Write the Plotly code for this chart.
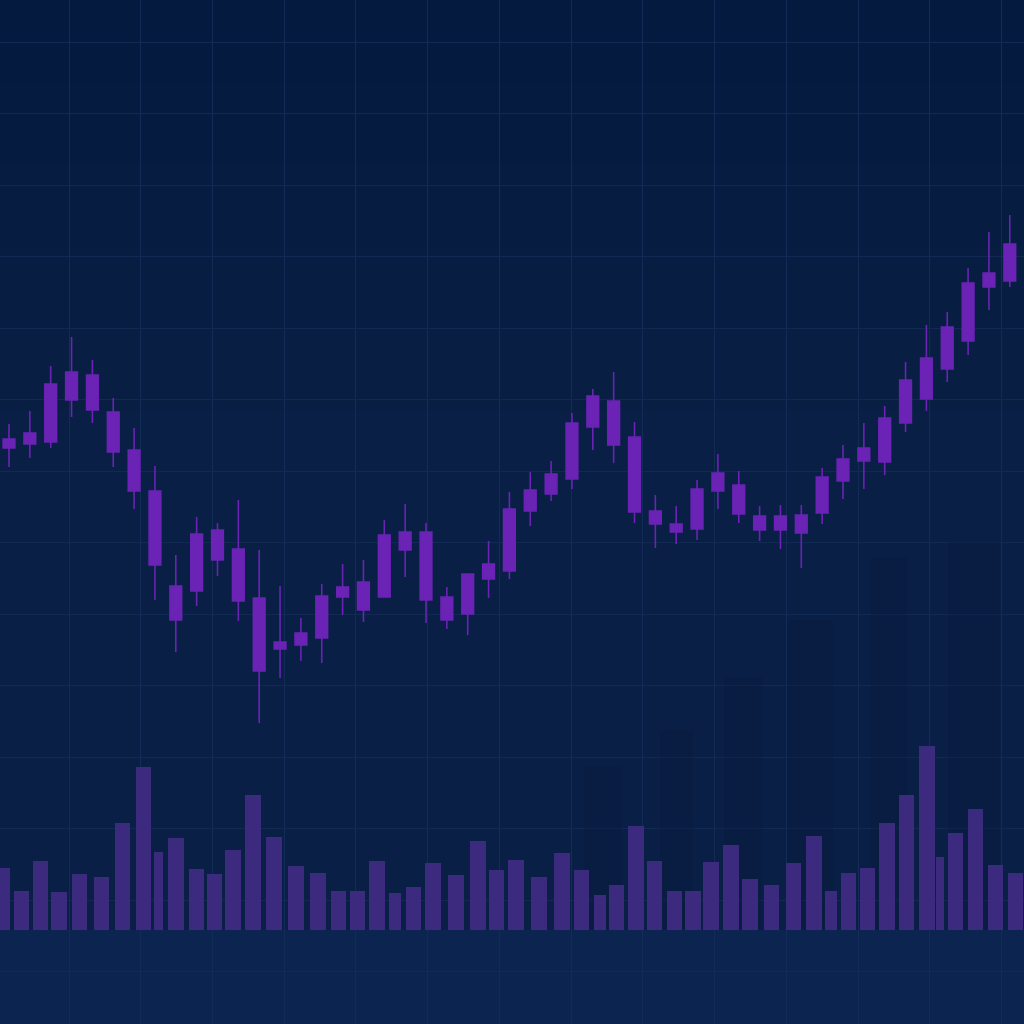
import plotly.graph_objects as go

# price candles (one per session)
sessions = list(range(49))
opens = [130.4, 131.2, 131.6, 140.0, 145.0, 137.6, 130.0, 121.8, 102.8, 101.8,
         114.0, 110.2, 100.4, 91.6, 91.0, 92.4, 100.6, 103.6, 100.6, 113.6,
         113.6, 100.6, 97.2, 104.2, 105.8, 117.8, 121.2, 124.2, 134.6, 139.8,
         132.6, 117.8, 115.2, 114.2, 121.8, 123.0, 116.8, 114.0, 117.0, 117.4,
         123.8, 127.8, 127.6, 135.4, 140.2, 146.2, 151.8, 165.4, 163.8]
highs = [135.2, 137.8, 146.8, 152.6, 148.0, 140.4, 134.4, 126.8, 109.0, 116.6,
         115.4, 120.0, 110.0, 102.8, 96.4, 103.2, 107.2, 108.0, 116.0, 119.2,
         115.4, 102.6, 105.2, 111.8, 121.6, 125.6, 127.8, 137.4, 142.2, 145.6,
         135.6, 121.0, 118.8, 124.0, 129.2, 125.8, 118.8, 119.0, 119.0, 126.4,
         131.0, 135.4, 138.8, 147.6, 155.0, 157.6, 166.4, 173.6, 177.0]
lows = [126.6, 128.4, 130.4, 136.6, 135.4, 126.6, 118.2, 100.0, 89.6, 98.8,
        104.8, 95.8, 75.4, 84.4, 87.8, 87.4, 97.0, 95.6, 100.6, 104.6,
        95.4, 94.2, 93.0, 100.4, 104.2, 114.8, 119.8, 122.2, 130.0, 127.4,
        115.4, 110.4, 111.2, 112.0, 118.2, 115.4, 111.8, 110.2, 106.4, 115.2,
        120.2, 122.2, 125.0, 133.6, 137.8, 143.6, 149.0, 158.0, 162.6]
closes = [132.2, 133.4, 143.2, 145.6, 138.0, 129.6, 121.8, 107.0, 96.0, 113.2,
          108.0, 99.8, 85.8, 90.2, 93.4, 100.8, 102.6, 98.0, 113.0, 110.0,
          100.0, 96.0, 105.2, 107.2, 118.2, 122.0, 125.2, 135.4, 140.8, 131.0,
          117.6, 115.2, 113.6, 122.2, 125.4, 117.2, 114.0, 116.8, 113.4, 124.6,
          128.2, 130.4, 136.4, 144.0, 148.4, 154.6, 163.4, 162.6, 171.2]

# volume bars (thousands), placed on the session axis
vol_x = [-0.34, 0.60, 1.51, 2.40, 3.38, 4.44, 5.44, 6.45, 7.17, 8.01,
         8.99, 9.86, 10.74, 11.70, 12.71, 13.76, 14.82, 15.80, 16.71, 17.65,
         18.51, 19.40, 20.34, 21.44, 22.49, 23.38, 24.32, 25.42, 26.52, 27.46,
         28.35, 29.14, 30.07, 30.96, 31.92, 32.81, 33.67, 34.63, 35.54, 36.57,
         37.63, 38.61, 39.42, 40.26, 41.17, 42.11, 43.04, 44.03, 44.65, 45.40,
         46.35, 47.31, 48.27]
volumes = [1550, 975, 1725, 950, 1400, 1325, 2675, 4075, 1950, 2300,
           1525, 1400, 2000, 3375, 2325, 1600, 1425, 975, 975, 1725,
           925, 1075, 1675, 1375, 2225, 1500, 1750, 1325, 1925, 1500,
           875, 1125, 2600, 1725, 975, 975, 1700, 2125, 1275, 1125,
           1675, 2350, 975, 1425, 1550, 2675, 3375, 4600, 1825, 2425,
           3025, 1625, 1425]

# faint skyline blocks behind the volume area
sky_x = [28.5, 32.0, 35.2, 38.4, 42.2, 46.3]
sky_h = [4075, 5000, 6325, 7750, 9325, 9700]

BG = "#0a1f45"
PURPLE = "#6a23b5"
VOL = "#3b2a7e"

# thinner bars where the picture squeezes them in
narrow = {8: 0.45, 20: 0.58, 30: 0.58, 42: 0.58, 48: 0.4}
vol_w = [narrow.get(i, 0.74) for i in range(len(vol_x))]

fig = go.Figure()

fig.add_trace(go.Bar(
    x=sky_x, y=sky_h, width=[1.8, 1.6, 1.8, 2.2, 1.7, 2.5],
    marker=dict(color="#06163a", line=dict(width=0)), opacity=0.2,
    yaxis="y2", hoverinfo="skip"))

fig.add_trace(go.Bar(
    x=vol_x, y=volumes, width=vol_w,
    marker=dict(color=VOL, line=dict(width=0)),
    yaxis="y2", name="volume"))

fig.add_trace(go.Candlestick(
    x=sessions, open=opens, high=highs, low=lows, close=closes,
    increasing=dict(line=dict(color=PURPLE, width=1.6), fillcolor=PURPLE),
    decreasing=dict(line=dict(color=PURPLE, width=1.6), fillcolor=PURPLE),
    whiskerwidth=0, name="price"))

# soft darkening toward the top (stacked thin veils)
veils = [dict(type="rect", xref="paper", yref="paper", x0=0, x1=1,
              y0=y0, y1=1, fillcolor="#05153a", opacity=0.06,
              line=dict(width=0), layer="below")
         for y0 in (0.6, 0.68, 0.76, 0.84, 0.92)]
veils.append(dict(type="rect", xref="paper", yref="paper", x0=0, x1=1,
                  y0=0, y1=0.0918, fillcolor="#0c2550", line=dict(width=0),
                  layer="below"))

fig.update_layout(
    width=1024, height=1024,
    margin=dict(l=0, r=0, t=0, b=0),
    paper_bgcolor=BG, plot_bgcolor=BG,
    showlegend=False, boxgap=0.44, boxgroupgap=0, bargap=0,
    xaxis=dict(range=[-0.4317, 48.681], rangeslider=dict(visible=False),
               showgrid=True, gridcolor="#122c57", gridwidth=1,
               tick0=2.88, dtick=3.44, showticklabels=False,
               zeroline=False, showline=False, ticks=""),
    yaxis=dict(range=[15.2, 220], showgrid=True, gridcolor="#102a53",
               gridwidth=1, tick0=211.6, dtick=14.3, showticklabels=False,
               zeroline=False, showline=False, ticks=""),
    yaxis2=dict(range=[-2350, 23250], overlaying="y", showgrid=False,
                showticklabels=False, zeroline=False, showline=False),
    shapes=veils,
)

fig.write_html("out.html", config={"displayModeBar": False},
               post_script="document.body.style.margin='0';"
                           "document.body.style.background='" + BG + "';")
